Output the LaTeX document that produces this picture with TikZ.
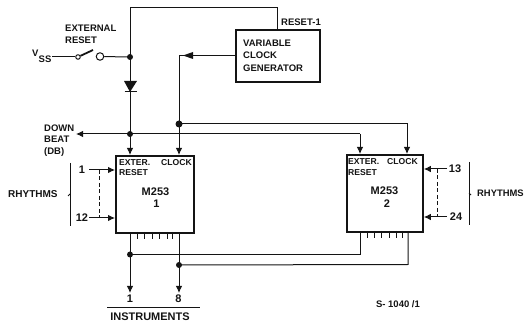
\documentclass[tikz,border=0pt]{standalone}
\usepackage{fontspec}
\setmainfont{Liberation Sans}[BoldFont={Liberation Sans Bold}]
\usetikzlibrary{arrows.meta,calc,decorations.pathreplacing}
\tikzset{
 x=1pt,y=-1pt,
 boxa/.style={draw=black!92,line width=1.8pt,inner sep=0pt,anchor=north west},
 wire/.style={draw=black!92,line width=1pt},
 arr/.style={wire,-{Latex[length=7pt,width=6.5pt]}},
 lab/.style={font=\bfseries\fontsize{9.5}{10}\selectfont,text=black!92,inner sep=0pt},
 labs/.style={font=\bfseries\fontsize{8.6}{9}\selectfont,text=black!92,inner sep=0pt},
 labl/.style={font=\bfseries\fontsize{11}{12}\selectfont,text=black!92,inner sep=0pt},
 labr/.style={font=\bfseries\fontsize{10}{11}\selectfont,text=black!92,inner sep=0pt},
 dot/.style={circle,fill=black!92,inner sep=0pt,minimum size=6pt},
 pin/.style={draw=black!92,line width=0.9pt},
}
\begin{document}
\begin{tikzpicture}
\useasboundingbox (0,0) rectangle (528,323);
% boxes
\node[boxa,minimum width=84pt,minimum height=52pt] (vcg) at (235,29) {};
\node[boxa,minimum width=78pt,minimum height=77pt] (ic1) at (115,155) {};
\node[boxa,minimum width=76pt,minimum height=77pt] (ic2) at (346,154) {};
% box text
\node[lab,anchor=west,align=left] (vt1) at (243,43) {VARIABLE};
\node[lab,anchor=west] (vt2) at (243,55.5) {CLOCK};
\node[lab,anchor=west] (vt3) at (243,68) {GENERATOR};
\node[labs,anchor=west] (e1) at (119,162.5) {EXTER.};
\node[labs,anchor=west] (r1) at (119,173) {RESET};
\node[labs,anchor=east] (c1) at (192,162.5) {CLOCK};
\node[labl,anchor=center] (m1) at (155.5,191.5) {M253};
\node[labl,anchor=center] (n1) at (156.5,204) {1};
\node[labs,anchor=west] (e2) at (348,162) {EXTER.};
\node[labs,anchor=west] (r2) at (348,172.5) {RESET};
\node[labs,anchor=east] (c2) at (418,161.5) {CLOCK};
\node[labl,anchor=center] (m2) at (384.5,191) {M253};
\node[labl,anchor=center] (n2) at (387,203.5) {2};
% labels
\node[lab,anchor=west] (ext1) at (65,28.5) {EXTERNAL};
\node[lab,anchor=west] (ext2) at (65,40.5) {RESET};
\node[lab,anchor=west] (rs1) at (281,22) {RESET-1};
\node[lab,anchor=west] (vss) at (32,53.5) {V};
\node[lab,anchor=west] (vss2) at (38.5,59.5) {SS};
\node[lab,anchor=west] (db1) at (44,128.5) {DOWN};
\node[lab,anchor=west] (db2) at (44,139.5) {BEAT};
\node[lab,anchor=west] (db3) at (44,152) {(DB)};
\node[labr,anchor=west] (rh1) at (8,194) {RHYTHMS};
\node[font=\bfseries\fontsize{9.4}{10}\selectfont,text=black!92,inner sep=0pt,anchor=west] (rh2) at (477,193) {RHYTHMS};
\node[labl] (t1) at (82,170) {1};
\node[labl] (t12) at (82,218) {12};
\node[labl] (t13) at (455,169) {13};
\node[labl] (t24) at (456,217) {24};
\node[labl] (i1) at (130,299) {1};
\node[labl] (i8) at (178.5,299) {8};
\node[labl] (ins) at (150,317) {INSTRUMENTS};
\node[lab] (sn) at (398,304) {S- 1040 /1};
% coordinates
\coordinate (top) at (130,8);
\coordinate (tr) at (277,8);
\coordinate (j1) at (130,57);
\coordinate (j2) at (130,134);
\coordinate (j3) at (179,124);
\coordinate (j4) at (130,254.5);
\coordinate (j5) at (179,265);
% reset line
\draw[wire] (vcg.north west -| tr) -- (tr) -- (top) -- (j1);
% diode
\coordinate (dt) at (130,81);
\coordinate (db) at (130,92);
\draw[wire] (j1) -- (dt);
\fill[black!92] (124,81) -- (137,81) -- (db) -- cycle;
\draw[wire] (124.5,92) -- (136.5,92);
\draw[wire] (db) -- (j2);
\draw[arr] (j2) -- (j2 |- ic1.north);
% clock
\coordinate (cc) at (179,55.5);
\draw[wire] (cc -| vcg.west) -- (cc) -- (j3);
\fill[black!92] (193,55.5) ++(0,-3.5) -- ++(0,7) -- ++(-10,-3.5) -- cycle;
\draw[arr] (j3) -- (j3 |- ic1.north);
% down beat
\coordinate (dbend) at (76,134);
\coordinate (k1) at (360,134);
\coordinate (k2) at (407,123.5);
\draw[arr] (j2) -- (dbend);
\draw[wire] (j2) -- (k1);
\draw[arr] (k1) -- (k1 |- ic2.north);
\draw[wire] (j3) -- (j3 -| k2) -- (k2);
\draw[arr] (k2) -- (k2 |- ic2.north);
\node[dot] at (j1) {};
\node[dot] at (j2) {};
\node[dot,minimum size=7pt] at (j3) {};
% switch
\node[draw=black!92,circle,line width=1pt,minimum size=7.5pt,inner sep=0pt] (sw2) at (100,56.5) {};
\node[draw=black!92,circle,line width=1pt,minimum size=4.5pt,inner sep=0pt] (sw1) at (78,57) {};
\coordinate (lev) at (93,50);
\draw[wire] (52,57) -- (sw1);
\draw[black!92,line width=1.8pt] (sw1) -- (lev);
\draw[wire] (sw2) -- (j1);
% rhythm inputs
\coordinate (a1) at (89,170);
\coordinate (a12) at (89,218);
\draw[arr] (a1) -- (a1 -| ic1.west);
\draw[arr] (a12) -- (a12 -| ic1.west);
\draw[wire,dash pattern=on 4pt off 2.5pt] (99,170) -- (99,217);
\coordinate (a13) at (447,169);
\coordinate (a24) at (447,217);
\draw[arr] (a13) -- (a13 -| ic2.east);
\draw[arr] (a24) -- (a24 -| ic2.east);
\draw[wire,dash pattern=on 4pt off 2.5pt] (437,169) -- (437,216);
% brackets
\draw[pin] (70,163) -- (70,226);
\draw[pin] (70,194) -- (68,196);
\draw[pin] (469,162) -- (469,225);
\draw[pin] (469,193) -- (471,195);
\draw[wire] (107,308) -- (200,308);
% pins
\foreach \x in {137,144,152,159,167,172} \draw[pin] (\x,232) -- (\x,239);
\foreach \x in {367,374,381,389,396,402} \draw[pin] (\x,231) -- (\x,238);
\coordinate (o1) at (130,293);
\coordinate (o8) at (179,293);
\coordinate (p1) at (360,254.5);
\coordinate (p2) at (408,264.5);
\draw[arr] (j4 |- ic1.south) -- (o1);
\draw[arr] (j5 |- ic1.south) -- (o8);
\draw[wire] (j4) -- (p1) -- (p1 |- ic2.south);
\draw[wire] (j5) -- (p2) -- (p2 |- ic2.south);
\node[dot] at (j4) {};
\node[dot] at (j5) {};
\end{tikzpicture}
\end{document}
